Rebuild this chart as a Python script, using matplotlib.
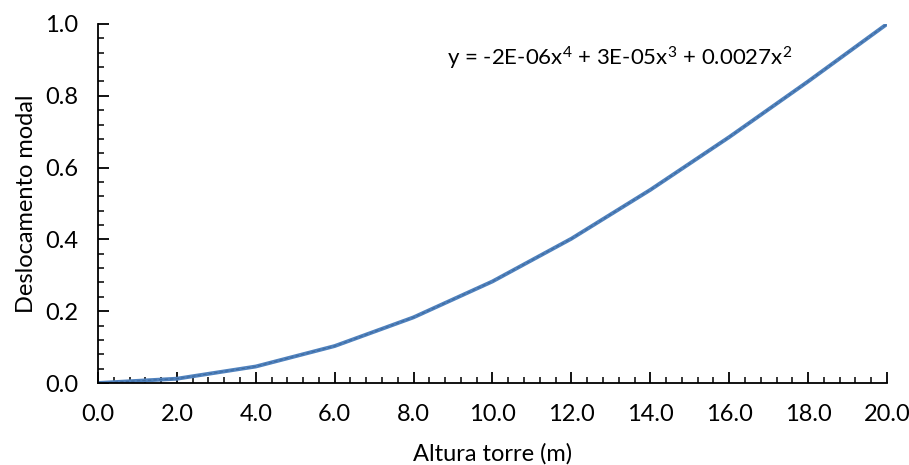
import matplotlib.pyplot as plt
from matplotlib.ticker import MultipleLocator, FormatStrFormatter

# tower height (m) and modal displacement
altura = [0.0, 2.0, 4.0, 6.0, 8.0, 10.0, 12.0, 14.0, 16.0, 18.0, 20.0]
deslocamento = [0.0, 0.012, 0.046, 0.103, 0.183, 0.283, 0.402, 0.538, 0.685, 0.84, 1.0]

equacao = 'y = -2E-06x$^4$ + 3E-05x$^3$ + 0.0027x$^2$'

plt.rcParams['font.family'] = ['Lato', 'DejaVu Sans']
plt.rcParams['mathtext.fontset'] = 'custom'
plt.rcParams['mathtext.rm'] = 'Lato'
plt.rcParams['mathtext.it'] = 'Lato'

fig = plt.figure(figsize=(9.09, 4.65), dpi=100)
ax = fig.add_axes([0.1078, 0.1763, 0.868, 0.7721])

ax.plot(altura, deslocamento, color='#4F81BD', lw=2.8, solid_capstyle='butt')
# polynomial trendline (dashed, mostly hidden under the series)
ax.plot(altura, deslocamento, color='#3E6A9E', lw=0.8, ls=(0, (3, 2)))

ax.set_xlim(0, 20)
ax.set_ylim(0, 1.0)
ax.xaxis.set_major_locator(MultipleLocator(2))
ax.xaxis.set_minor_locator(MultipleLocator(0.4))
ax.yaxis.set_major_locator(MultipleLocator(0.2))
ax.yaxis.set_minor_locator(MultipleLocator(0.04))
ax.xaxis.set_major_formatter(FormatStrFormatter('%.1f'))
ax.yaxis.set_major_formatter(FormatStrFormatter('%.1f'))

for s in ['top', 'right']:
    ax.spines[s].set_visible(False)
for s in ['left', 'bottom']:
    ax.spines[s].set_linewidth(1.3)
    ax.spines[s].set_color('black')

ax.tick_params(which='major', direction='in', length=8, width=1.3, labelsize=17)
ax.tick_params(which='minor', direction='in', length=4, width=1.1)
ax.tick_params(axis='x', which='major', pad=15)
ax.tick_params(axis='y', which='major', pad=14)

ax.set_xlabel('Altura torre (m)', fontsize=17, labelpad=13)
ax.set_ylabel('Deslocamento modal', fontsize=17, labelpad=6)

ax.text(0.442, 0.905, equacao, transform=ax.transAxes, fontsize=16,
        ha='left', va='center')

fig.savefig('out.png', dpi=100)
